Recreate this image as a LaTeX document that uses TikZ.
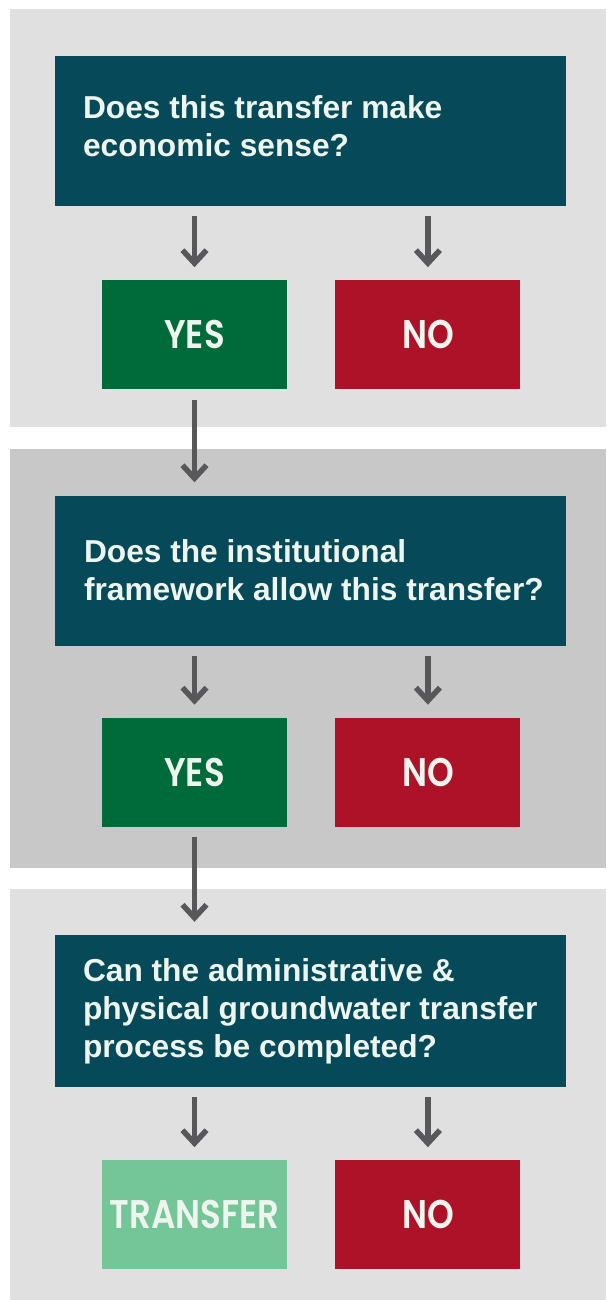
\documentclass[tikz,border=0pt]{standalone}
\usepackage{fontspec}
\setmainfont{Liberation Sans}
\newfontfamily\answerfont{Poppins}[UprightFont=* SemiBold, FakeStretch=0.85]
\usetikzlibrary{positioning}
\usetikzlibrary{arrows.meta}
\definecolor{panellight}{HTML}{DFE0DF}
\definecolor{paneldark}{HTML}{C8C8C8}
\definecolor{questionteal}{HTML}{064A59}
\definecolor{yesgreen}{HTML}{006B3A}
\definecolor{nored}{HTML}{AD1228}
\definecolor{transfergreen}{HTML}{74C598}
\definecolor{arrowgray}{HTML}{58585A}
\definecolor{textwhite}{HTML}{EEF5EE}

\begin{document}
\begin{tikzpicture}
	[x=1pt,y=-1pt,>={Straight Barb[length=13pt,width=24pt]},
	question/.style={rectangle,fill=questionteal,inner sep=0pt,minimum width=511pt,minimum height=150pt},
	qtext/.style={anchor=west,align=left,inner sep=0pt,text=textwhite,font=\fontsize{31.7}{38}\selectfont\bfseries},
	answer/.style={rectangle,inner sep=0pt,minimum width=185pt,minimum height=109pt,text=textwhite,font=\answerfont\fontsize{40}{40}\selectfont},
	yes/.style={answer,fill=yesgreen},
	no/.style={answer,fill=nored},
	done/.style={answer,fill=transfergreen},
	flow/.style={->,draw=arrowgray,line width=5.5pt,shorten <=10pt,shorten >=13pt}]
	\useasboundingbox (0,0) rectangle (606,1300);
	\fill [panellight] (10,9) rectangle (606,427);
	\fill [paneldark] (10,449) rectangle (606,868);
	\fill [panellight] (10,889) rectangle (606,1300);
	\node at (310.5,131) (q1) [question] {};
	\node at ([xshift=28pt,yshift=5pt]q1.west) (t1) [qtext] {Does this transfer make\\economic sense?};
	\node [yes] (yes1) [below right=74pt and 47pt of q1.south west] {YES};
	\node [no] (no1) [right=48pt of yes1] {NO};
	\node at (310.5,570.5) (q2) [question] {};
	\node at ([xshift=29pt]q2.west) (t2) [qtext] {Does the institutional\\framework allow this transfer?};
	\node [yes] (yes2) [below right=72pt and 47pt of q2.south west] {YES};
	\node [no] (no2) [right=48pt of yes2] {NO};
	\node at (310.5,1011) (q3) [question,minimum height=152pt] {};
	\node at ([xshift=28pt]q3.west) (t3) [qtext] {Can the administrative \&\\physical groundwater transfer\\process be completed?};
	\node [done] (yes3) [below right=73pt and 47pt of q3.south west] {TRANSFER};
	\node [no] (no3) [right=48pt of yes3] {NO};
	\draw [flow] (yes1 |- q1.south) -- (yes1.north);
	\draw [flow] (no1 |- q1.south) -- (no1.north);
	\draw [flow] (yes1.south) -- (q2.north -| yes1);
	\draw [flow] (yes2 |- q2.south) -- (yes2.north);
	\draw [flow] (no2 |- q2.south) -- (no2.north);
	\draw [flow] (yes2.south) -- (q3.north -| yes2);
	\draw [flow] (yes3 |- q3.south) -- (yes3.north);
	\draw [flow] (no3 |- q3.south) -- (no3.north);
\end{tikzpicture}
\end{document}
